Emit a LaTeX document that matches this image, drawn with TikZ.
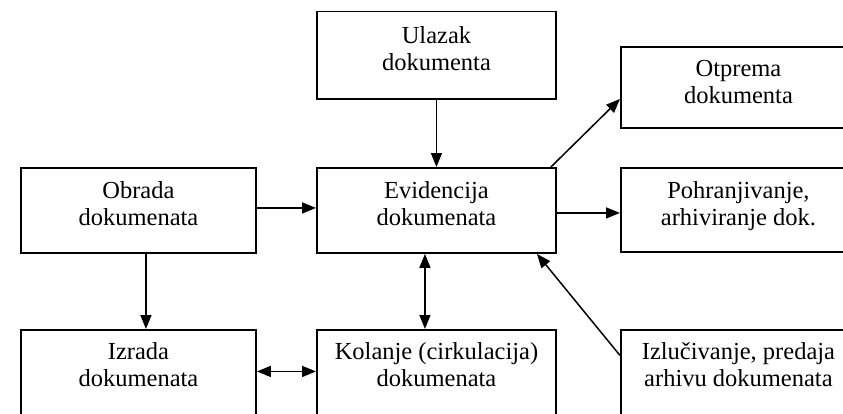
\documentclass[tikz,border=0pt]{standalone}
\usepackage{fontspec}
\setmainfont{Liberation Serif}
\usetikzlibrary{arrows.meta,calc}
\begin{document}
\begin{tikzpicture}[x=1pt,y=-1pt,
  box/.style={draw=black, line width=1.9pt, rectangle, inner sep=0pt, anchor=north west},
  lbl/.style={font=\fontsize{24.5}{27.5}\selectfont, align=center, inner sep=0pt, anchor=north},
  conn/.style={draw=black, line width=1.5pt, -{Triangle[length=14pt,width=11pt]}},
  both/.style={draw=black, line width=1.5pt, {Triangle[length=14pt,width=11pt]}-{Triangle[length=14pt,width=11pt]}}]

\useasboundingbox (0,0) rectangle (843,413);
\clip (0,0) rectangle (843,413);

% boxes
\node[box, minimum width=239pt, minimum height=87.5pt] (ul) at (316,10.5) {};
\node[box, minimum width=239pt, minimum height=85pt]   (ev) at (316,167) {};
\node[box, minimum width=235pt, minimum height=85pt]   (ob) at (20,167) {};
\node[box, minimum width=235pt, minimum height=81pt]   (ot) at (620,46) {};
\node[box, minimum width=235pt, minimum height=84pt]   (po) at (620,167) {};
\node[box, minimum width=235pt, minimum height=85pt]   (iz) at (20,329) {};
\node[box, minimum width=239pt, minimum height=85pt]   (ko) at (316,329) {};
\node[box, minimum width=235pt, minimum height=85pt]   (il) at (620,329) {};

% labels
\node[lbl] (ult) at ($(ul.north)+(0,15.5)$) {Ulazak\\dokumenta};
\node[lbl] (evt) at ($(ev.north)+(0,14)$) {Evidencija\\dokumenata};
\node[lbl] (obt) at ($(ob.north)+(0,14)$) {Obrada\\dokumenata};
\node[lbl] (ott) at ($(ot.north)+(0,14)$) {Otprema\\dokumenta};
\node[lbl] (pot) at ($(po.north)+(0,14)$) {Pohranjivanje,\\arhiviranje dok.};
\node[lbl] (izt) at ($(iz.north)+(0,13)$) {Izrada\\dokumenata};
\node[lbl] (kot) at ($(ko.north)+(0,13)$) {Kolanje (cirkulacija)\\dokumenata};
\node[lbl] (ilt) at ($(il.north)+(0,13)$) {Izlučivanje, predaja\\arhivu dokumenata};

% connectors
\draw[conn] (ul.south) -- (ev.north);
\draw[conn] ([yshift=2.5pt]ob.east) -- ([yshift=2.5pt]ev.west);
\draw[conn] ([yshift=-2.5pt]ev.east) -- ([yshift=-3pt]po.west);
\draw[conn] ([xshift=-6pt]ev.north east) -- ([yshift=-11.5pt]ot.west);
\draw[conn] ([xshift=7.5pt]ob.south) -- ([xshift=7.5pt]iz.north);
\draw[both] ([xshift=-11.5pt]ev.south) -- ([xshift=-11.5pt]ko.north);
\draw[both] ([yshift=1pt]iz.east) -- ([yshift=1pt]ko.west);
\draw[conn] ([yshift=17pt]il.west) -- ([xshift=100.5pt]ev.south);
\end{tikzpicture}
\end{document}
